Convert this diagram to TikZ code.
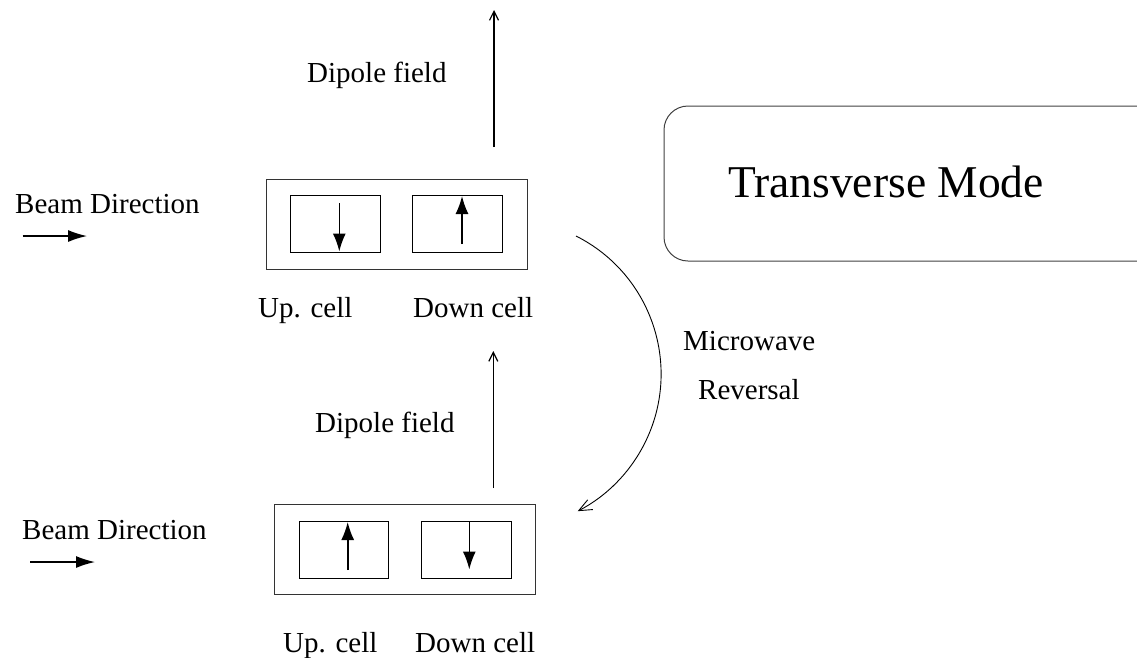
\documentclass[tikz,border=0pt]{standalone}
\usepackage{fontspec}
\setmainfont{Liberation Serif}
\usetikzlibrary{arrows.meta}
\begin{document}
\begin{tikzpicture}[x=1pt,y=-1pt,
  lbl/.style={anchor=base west,inner sep=0pt,font=\fontsize{29}{34}\selectfont},
  outerbox/.style={draw=black!80,line width=1pt},
  cellbox/.style={draw=black,line width=1pt},
  cellarrow/.style={line width=1.6pt,-{Latex[length=18pt,width=13pt]}},
  beamarrow/.style={line width=1.4pt,-{Latex[length=19pt,width=12pt]}},
  fieldarrow/.style={line width=1.2pt,-{Straight Barb[length=9pt,width=9pt]}},
  turnarrow/.style={line width=0.9pt,-{Straight Barb[length=13pt,width=11pt]}}]
\clip (0,0) rectangle (1137,657);
% rounded mode box
\draw[draw=black!75,line width=1pt,rounded corners=24pt] (664,106) rectangle (1180,261);
\node[anchor=base west,inner sep=0pt,font=\fontsize{45.5}{50}\selectfont] (mode) at (728,197) {Transverse Mode};
% top assembly
\draw[outerbox] (266.7,179.3) rectangle (527,269) coordinate (topouter);
\draw[cellbox] (290.7,195) rectangle (380.7,252.3);
\draw[cellbox] (412.7,195) rectangle (502.7,252.3);
\coordinate (a1s) at (339.3,203); \coordinate (a1e) at (339.3,251.5);
\coordinate (a2s) at (462,244); \coordinate (a2e) at (462,196);
\draw[cellarrow] (a1s) -- (a1e);
\draw[cellarrow] (a2s) -- (a2e);
\node[lbl] (up1) at (258,317) {Up. cell};
\node[lbl] (down1) at (413,317) {Down cell};
\coordinate (d1s) at (494,147); \coordinate (d1e) at (494,10);
\draw[fieldarrow] (d1s) -- (d1e);
\node[lbl] (dip1) at (307,82) {Dipole field};
\node[lbl] (beam1) at (15,213) {Beam Direction};
\coordinate (b1s) at (22.7,236); \coordinate (b1e) at (87,236);
\draw[beamarrow] (b1s) -- (b1e);
% bottom assembly
\draw[outerbox] (274.7,504.7) rectangle (535.3,594.3);
\draw[cellbox] (299,521.3) rectangle (388.7,578.3);
\draw[cellbox] (421.3,521.3) rectangle (511,578.3);
\coordinate (a3s) at (347.7,570); \coordinate (a3e) at (347.7,522);
\coordinate (a4s) at (469.3,521.5); \coordinate (a4e) at (469.3,569.5);
\draw[cellarrow] (a3s) -- (a3e);
\draw[cellarrow] (a4s) -- (a4e);
\node[lbl] (up2) at (283,652) {Up. cell};
\node[lbl] (down2) at (415,652) {Down cell};
\coordinate (d2s) at (493.3,488); \coordinate (d2e) at (493.3,351);
\draw[fieldarrow] (d2s) -- (d2e);
\node[lbl] (dip2) at (315,432) {Dipole field};
\node[lbl] (beam2) at (22,539) {Beam Direction};
\coordinate (b2s) at (30,562); \coordinate (b2e) at (95,562);
\draw[beamarrow] (b2s) -- (b2e);
% microwave reversal
\coordinate (mw) at (576,236);
\draw[turnarrow] (mw) arc[start angle=63.3,end angle=-62.6,radius=154.5pt];
\node[lbl] (mw1) at (683,350) {Microwave};
\node[lbl] (mw2) at (698,399) {Reversal};
\end{tikzpicture}
\end{document}
